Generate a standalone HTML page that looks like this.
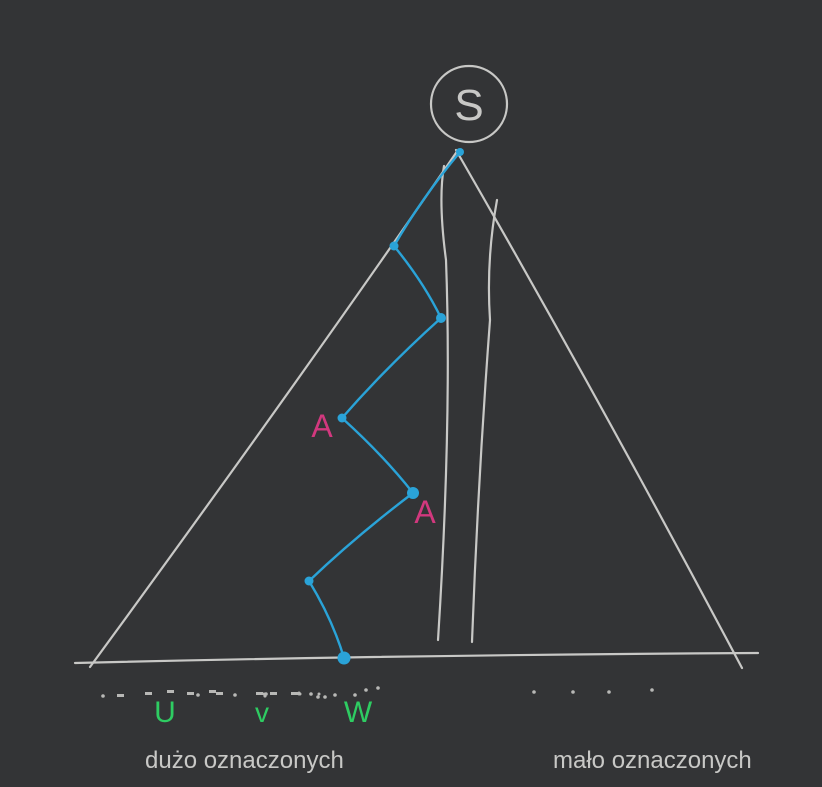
<!DOCTYPE html>
<html><head><meta charset="utf-8"><style>
html,body{margin:0;padding:0;background:#333436;}
svg{display:block;}
text{font-family:"Liberation Sans",sans-serif;}
</style></head><body>
<svg id="sk" width="822" height="787" viewBox="0 0 822 787">
<rect width="822" height="787" fill="#333436"/>
<g fill="none" stroke="#c8c8c6" stroke-width="2.2" stroke-linecap="round">
<circle cx="469" cy="104" r="38"/>
<path d="M458 150 Q300 380 90 667"/>
<path d="M456 150 Q600 400 742 668"/>
<path d="M75 663 Q400 655 758 653"/>
<path d="M444 166 Q438 200 446 260 Q452 420 438 640"/>
<path d="M497 200 Q486 260 490 320 Q478 480 472 642"/>
</g>
<text x="469" y="120" font-size="44" fill="#c8c8c6" text-anchor="middle">S</text>
<g id="pathg"></g>
<text x="322" y="437" font-size="32" fill="#d2387e" text-anchor="middle">A</text>
<text x="425" y="523" font-size="32" fill="#d2387e" text-anchor="middle">A</text>
<text x="165" y="722" font-size="30" fill="#2ecc62" text-anchor="middle">U</text>
<text x="262" y="722" font-size="28" fill="#2ecc62" text-anchor="middle">v</text>
<text x="358" y="722" font-size="30" fill="#2ecc62" text-anchor="middle">W</text>
<g fill="#b8b8b6">
<circle cx="103" cy="696" r="1.8"/><rect x="117" y="694" width="7" height="3"/><rect x="145" y="692" width="7" height="3"/><rect x="167" y="690" width="7" height="3"/>
<rect x="187" y="692" width="7" height="3"/><rect x="209" y="690" width="7" height="3"/><circle cx="198" cy="695" r="1.8"/><rect x="216" y="692" width="7" height="3"/>
<rect x="256" y="692" width="7" height="3"/><rect x="270" y="692" width="7" height="3"/><rect x="291" y="692" width="7" height="3"/><circle cx="266" cy="694" r="1.8"/>
<circle cx="265" cy="696" r="1.5"/><circle cx="265" cy="696" r="1.5"/><circle cx="265" cy="696" r="1.5"/>
<circle cx="264" cy="694" r="1.5"/><circle cx="325" cy="697" r="1.8"/><circle cx="299" cy="693" r="1.5"/><circle cx="311" cy="694" r="1.8"/>
<circle cx="319" cy="694" r="1.5"/><circle cx="299" cy="694" r="1.5"/><circle cx="300" cy="694" r="1.5"/>
<circle cx="335" cy="695" r="1.8"/><circle cx="355" cy="695" r="1.8"/><circle cx="366" cy="690" r="1.8"/><circle cx="318" cy="697" r="1.8"/>
<circle cx="235" cy="695" r="1.8"/><circle cx="378" cy="688" r="1.8"/>
<circle cx="534" cy="692" r="1.8"/><circle cx="573" cy="692" r="1.8"/><circle cx="609" cy="692" r="1.8"/><circle cx="652" cy="690" r="1.8"/>
</g>
<text x="145" y="768" font-size="24" fill="#c8c8c6">dużo oznaczonych</text>
<text x="553" y="768" font-size="24" fill="#c8c8c6">mało oznaczonych</text>
</svg>
<script>
const nodeX = [460, 394, 441, 342, 413, 309, 344];
const nodeY = [152, 246, 318, 418, 493, 581, 658];
const nodeR = [4, 4.5, 5, 4.5, 6, 4.5, 6.5];
const g = document.getElementById('pathg');
const ns = 'http://www.w3.org/2000/svg';
let d = '';
for (let i = 0; i < nodeX.length; i++) {
  if (i === 0) { d += 'M' + nodeX[i] + ' ' + nodeY[i]; }
  else {
    const mx = (nodeX[i-1] + nodeX[i]) / 2 + (i % 2 ? -6 : 6);
    const my = (nodeY[i-1] + nodeY[i]) / 2;
    d += ' Q' + mx + ' ' + my + ' ' + nodeX[i] + ' ' + nodeY[i];
  }
}
const p = document.createElementNS(ns, 'path');
p.setAttribute('d', d);
p.setAttribute('fill', 'none');
p.setAttribute('stroke', '#2aa3d8');
p.setAttribute('stroke-width', '2.4');
p.setAttribute('stroke-linecap', 'round');


g.appendChild(p);
for (let i = 0; i < nodeX.length; i++) {
  const c = document.createElementNS(ns, 'circle');
  c.setAttribute('cx', nodeX[i]);
  c.setAttribute('cy', nodeY[i]);
  c.setAttribute('r', nodeR[i]);
  c.setAttribute('fill', '#2aa3d8');
  
  
  g.appendChild(c);
}
</script>
</body></html>
